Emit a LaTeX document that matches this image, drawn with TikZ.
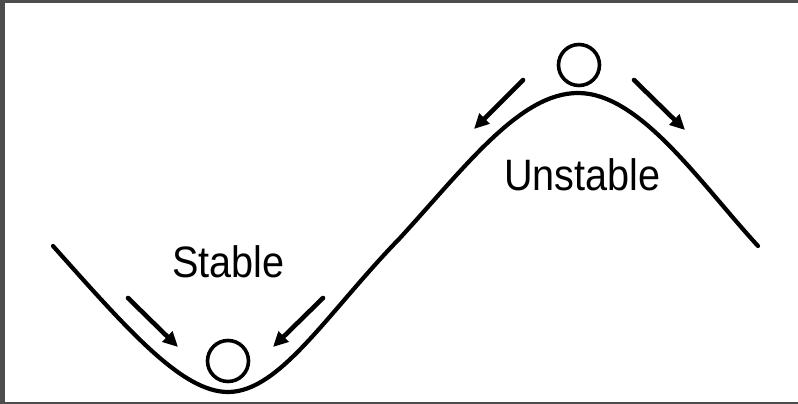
\documentclass[tikz,border=0pt]{standalone}
\usepackage{fontspec}
\setmainfont{Liberation Sans}
\usetikzlibrary{arrows.meta}
\definecolor{framegray}{HTML}{4D4D4D}
\tikzset{
  curve/.style={line width=4.2pt, line cap=round, line join=round},
  ball/.style={circle, draw, line width=3.6pt, minimum size=41pt, inner sep=0pt},
  push/.style={line width=4.6pt, line cap=round, -{Triangle[length=15pt,width=14pt]}},
  lbl/.style={inner sep=0pt, anchor=base west, font=\fontsize{44}{50}\selectfont},
}
\begin{document}
\begin{tikzpicture}[x=1pt,y=-1pt]
\useasboundingbox (0,0) rectangle (798,404);
\fill[white] (0,0) rectangle (798,404);
\fill[framegray] (0,0) rectangle (798,3);
\fill[framegray] (0,0) rectangle (5,404);
\fill[framegray] (0,402) rectangle (798,404);
% landscape
\coordinate (A) at (53,246);
\coordinate (B) at (228,392);
\coordinate (M) at (400,238);
\coordinate (C) at (578,93);
\coordinate (D) at (758,246);
\draw[curve] (A) .. controls (128,330) and (182,392) .. (B)
  .. controls (280,392) and (328,312) .. (M)
  .. controls (466,166) and (520,93) .. (C)
  .. controls (640,93) and (700,183) .. (D);
% balls
\node[ball] (b1) at (228,361) {};
\node[ball] (b2) at (579,65) {};
% arrows
\coordinate (a1s) at (128,298); \coordinate (a1e) at (178,347);
\coordinate (a2s) at (323,298); \coordinate (a2e) at (273,347);
\coordinate (a3s) at (523,80);  \coordinate (a3e) at (474,129);
\coordinate (a4s) at (634,80);  \coordinate (a4e) at (685,130);
\draw[push] (a1s) -- (a1e);
\draw[push] (a2s) -- (a2e);
\draw[push] (a3s) -- (a3e);
\draw[push] (a4s) -- (a4e);
% labels
\node[lbl] (stable) at (172,277) {\scalebox{0.9}[1]{Stable}};
\node[lbl] (unstable) at (504,190) {\scalebox{0.9}[1]{Unstable}};
\end{tikzpicture}
\end{document}
